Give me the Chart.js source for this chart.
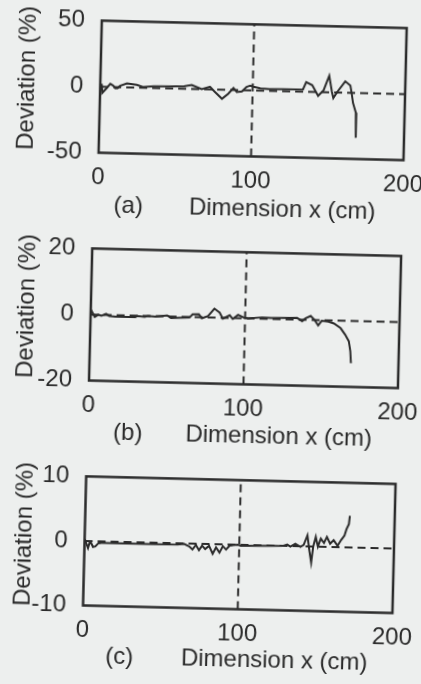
<!DOCTYPE html>
<html>
<head>
<meta charset="utf-8">
<script src="https://cdn.jsdelivr.net/npm/chart.js@4.4.1/dist/chart.umd.min.js"></script>
<style>
  html, body { margin: 0; padding: 0; width: 421px; height: 684px; overflow: hidden; background: #edefee; }
  #page { position: relative; width: 421px; height: 684px; transform: rotate(1.4deg); transform-origin: 210.5px 342px; }
  #page canvas { position: absolute; left: 0; }
</style>
</head>
<body>
<div id="page">
  <canvas id="chartA" width="421" height="230" style="top:0"></canvas>
  <canvas id="chartB" width="421" height="228" style="top:228px"></canvas>
  <canvas id="chartC" width="421" height="228" style="top:456px"></canvas>
</div>
<script>
// x ticks shared by all three panels
const xTicks = [0, 100, 200];

// (a) deviation along x, range +-50 %
const aX = [0, 1, 1.5, 4.4, 6.6, 8.5, 10, 11.5, 13, 17.5, 24, 28, 35, 45, 55, 60, 66.6, 72, 75, 80, 84, 87.4, 89.6, 93, 96, 98.4, 100.5, 105, 111, 120, 133, 135, 139, 143, 146.5, 150, 152, 153, 155.6, 160.6, 164, 165, 166, 168, 168.3, 168.4];
const aY = [1.5, 1.5, -4.6, -0.8, 2.3, 1, -1, -0.8, 1, 3, 2, 0.5, 1.2, 1.5, 1.8, 3, 0, 2, -1.6, -6.9, -3, 1.5, -1.5, -1, 2.5, 3.6, 2.8, 1.7, 1.2, 1.5, 1.7, 7.3, 5, -2.9, 1.4, 12.5, 0.4, -4.3, 0.5, 8.6, 5.5, -0.5, -7.7, -15, -26, -34];
const aTicks = [-50, 0, 50];

// (b) range +-20 %
const bX = [0, 2.7, 5, 7, 10, 12, 16, 29, 30, 35, 37, 42, 49.6, 52, 64, 66, 70, 72, 76, 80, 83.5, 85.6, 90, 92, 95.4, 98.7, 102, 111, 117, 133.7, 137, 139, 142.4, 145, 147.4, 149.6, 154, 157.6, 162, 165, 167.5, 168.6, 169.2];
const bY = [1.6, -0.7, 0, -0.3, 0.3, -0.3, -0.5, -0.5, -0.1, -0.3, 0, -0.2, 0.3, -0.5, -0.2, 0.8, 0.9, -0.3, 0.4, 2.7, 1.5, -0.3, 0.8, -0.3, 1, 0.3, 0, 0.4, 0.3, 0.5, -0.5, 0.4, 1.2, 0, -1.6, -0.2, -0.4, -0.9, -2.3, -4.2, -6.2, -9.1, -12.8];
const bTicks = [-20, 0, 20];

// (c) range +-10 %
const cX = [0, 0.7, 2.3, 3.2, 4.4, 5.5, 7, 9, 11, 20, 40, 60, 64.4, 67.6, 69.8, 72, 74, 76, 78, 80.5, 82.9, 85, 87.3, 89.4, 91.5, 93.7, 96, 99, 101, 128.5, 131, 133, 136.2, 139.5, 141.6, 143.9, 145.4, 146.7, 147.8, 149.3, 150.8, 152.6, 154.7, 156.5, 158.7, 160.9, 163.5, 165.7, 167.8, 169, 170.5, 171];
const cY = [0.3, -0.1, -1.1, -0.3, -0.35, -0.9, -0.8, -0.3, -0.25, -0.25, -0.25, -0.2, -0.1, -0.45, -0.9, -0.2, -1, -0.3, -0.8, -0.3, -1.5, -0.5, -1.3, -0.3, -0.8, -0.2, -0.1, 0, -0.15, 0, 0.2, -0.1, 0.35, -0.1, 0.2, 1.7, -0.7, -2.5, 0, 1.5, 0, 1.25, 0.6, 1.55, 0.5, 1.05, 0.2, 1.1, 1.8, 2.8, 3.6, 4.9];
const cTicks = [-10, 0, 10];

// dashed reference lines: x = 100 and y = 0
const refX = [100, 100];
const zeroX = [0, 200];
const zeroY = [0, 0];

const INK = '#2b2b2b';
const FONT = '"Liberation Sans", Arial, sans-serif';

// box around the plot area, rotated y title and the caption under each panel
const framePlugin = {
  id: 'frame',
  afterDraw(chart, args, opts) {
    const { ctx, chartArea: a } = chart;
    ctx.save();
    ctx.strokeStyle = INK;
    ctx.lineWidth = 2.5;
    ctx.strokeRect(a.left, a.top, a.right - a.left, a.bottom - a.top);
    ctx.fillStyle = INK;
    ctx.font = '24px ' + FONT;
    ctx.textAlign = 'center';
    ctx.textBaseline = 'middle';
    ctx.save();
    ctx.translate(opts.titleX, opts.titleY);
    ctx.rotate(-Math.PI / 2);
    ctx.fillText('Deviation (%)', 0, 0);
    ctx.restore();
    ctx.fillText(opts.tag, opts.tagX, a.bottom + opts.capDy);
    ctx.fillText('Dimension x (cm)', opts.capX, a.bottom + opts.capDy);
    ctx.restore();
  }
};

function pts(xs, ys) {
  return xs.map((x, i) => ({ x: x, y: ys[i] }));
}

function makeChart(id, xs, ys, yTicks, lay) {
  const dashed = { borderColor: INK, borderWidth: 2, borderDash: [8, 5], pointRadius: 0, tension: 0 };
  return new Chart(document.getElementById(id), {
    type: 'line',
    data: {
      datasets: [
        { data: pts(xs, ys), borderColor: INK, borderWidth: 2, pointRadius: 0, tension: 0 },
        Object.assign({ data: pts(refX, [yTicks[0], yTicks[yTicks.length - 1]]) }, dashed),
        Object.assign({ data: pts(zeroX, zeroY) }, dashed)
      ]
    },
    options: {
      responsive: false,
      animation: false,
      devicePixelRatio: 1,
      layout: { padding: { left: 0, top: lay.top, right: lay.right, bottom: 0 } },
      plugins: {
        legend: { display: false },
        tooltip: { enabled: false },
        frame: lay
      },
      scales: {
        x: {
          type: 'linear',
          min: xTicks[0],
          max: xTicks[xTicks.length - 1],
          afterBuildTicks: s => { s.ticks = xTicks.map(v => ({ value: v })); },
          afterFit: s => { s.height = lay.xH; },
          grid: { display: false },
          border: { display: false },
          ticks: { color: INK, font: { family: FONT, size: 24 }, padding: 2, maxRotation: 0, autoSkip: false }
        },
        y: {
          type: 'linear',
          min: yTicks[0],
          max: yTicks[yTicks.length - 1],
          afterBuildTicks: s => { s.ticks = yTicks.map(v => ({ value: v })); },
          afterFit: s => { s.width = lay.yW; },
          grid: { display: false },
          border: { display: false },
          ticks: { color: INK, font: { family: FONT, size: 24 }, padding: 9, autoSkip: false }
        }
      }
    },
    plugins: [framePlugin]
  });
}

makeChart('chartA', aX, aY, aTicks, { top: 22.5, right: 22, xH: 74.5, yW: 94, titleX: 21.6, titleY: 82.5, tag: '(a)', tagX: 125, capX: 279, capDy: 53 });
makeChart('chartB', bX, bY, bTicks, { top: 18, right: 22, xH: 72.5, yW: 90, titleX: 26, titleY: 82.5, tag: '(b)', tagX: 130, capX: 281, capDy: 52 });
makeChart('chartC', cX, cY, cTicks, { top: 17, right: 22, xH: 75.5, yW: 89.5, titleX: 29.7, titleY: 82.5, tag: '(c)', tagX: 127, capX: 282, capDy: 50.5 });
</script>
</body>
</html>
